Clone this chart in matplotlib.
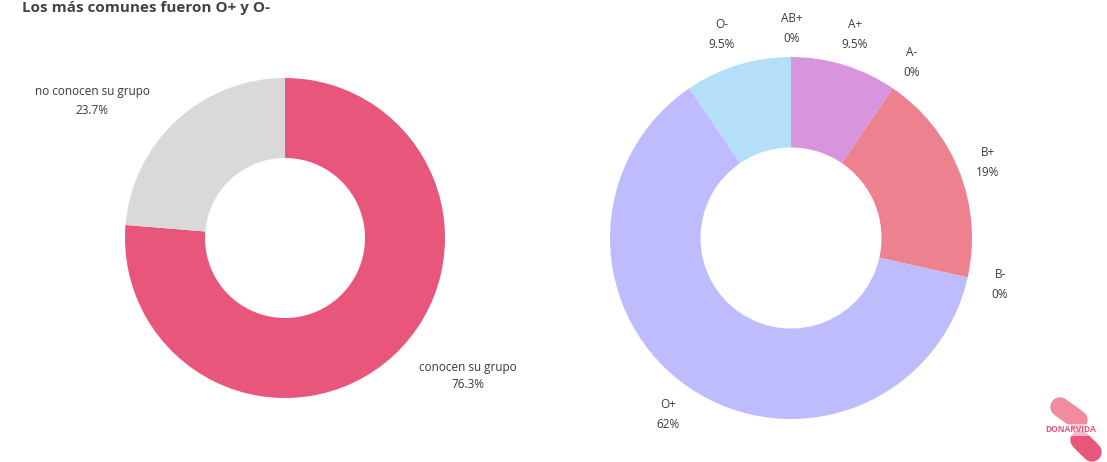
import matplotlib.pyplot as plt

plt.rcParams['font.family'] = ['Open Sans', 'DejaVu Sans']

W, H = 1107, 462

# Data
know_labels = ["conocen su grupo", "no conocen su grupo"]
know_values = [76.3, 23.7]
know_colors = ["#E8577B", "#D9D9D9"]

blood_labels = ["A+", "A-", "B+", "B-", "O+", "O-", "AB+"]
blood_values = [9.5, 0, 19, 0, 62, 9.5, 0]
blood_pct = ["9.5%", "0%", "19%", "0%", "62%", "9.5%", "0%"]
blood_colors = ["#D895DD", "#D895DD", "#EE8190", "#EE8190", "#BEBCFD", "#B5DFF9", "#B5DFF9"]

title = "Los más comunes fueron O+ y O-"

fig = plt.figure(figsize=(W / 100, H / 100), dpi=100)
fig.patch.set_facecolor("white")


def px_axes(cx, cy, r):
    return fig.add_axes([(cx - r) / W, (H - cy - r) / H, 2 * r / W, 2 * r / H])


# Left donut
ax1 = px_axes(285, 238, 160)
ax1.pie(know_values, colors=know_colors, startangle=90, counterclock=False,
        wedgeprops=dict(width=0.5, linewidth=0))
ax1.set_xlim(-1, 1)
ax1.set_ylim(-1, 1)
ax1.axis("off")

# Right donut
ax2 = px_axes(791, 238, 181)
ax2.pie(blood_values, colors=blood_colors, startangle=90, counterclock=False,
        wedgeprops=dict(width=0.5, linewidth=0))
ax2.set_xlim(-1, 1)
ax2.set_ylim(-1, 1)
ax2.axis("off")

# Overlay in pixel coordinates for labels, title and logo
ov = fig.add_axes([0, 0, 1, 1])
ov.set_xlim(0, W)
ov.set_ylim(H, 0)
ov.axis("off")
ov.patch.set_alpha(0)

txt = dict(color="#3a3a3a", fontsize=8.5, ha="center", va="center")

know_pos = [(468, 367), (92, 92)]
for (x, y), lab, v in zip(know_pos, know_labels, know_values):
    ov.text(x, y, lab, **txt)
    ov.text(x, y + 18, f"{v}%", **txt)

blood_pos = [(855, 25), (912, 52), (988, 152), (1000, 275), (668, 405), (722, 25), (792, 18)]
for (x, y), lab, p in zip(blood_pos, blood_labels, blood_pct):
    ov.text(x, y, lab, **txt)
    ov.text(x, y + 20, p, **txt)

ov.text(22, 1, title, color="#444444", fontsize=11, fontweight="bold",
        ha="left", va="top")

# Logo
ov.plot([1060, 1078], [407, 420], color="#F28BA0", lw=14, solid_capstyle="round")
ov.plot([1080, 1092], [440, 452], color="#E8577B", lw=14, solid_capstyle="round")
ov.text(1045, 430, "DONARVIDA", color="#E8577B", fontsize=6, fontweight="bold",
        ha="left", va="center",
        bbox=dict(boxstyle="square,pad=0.15", fc="white", ec="none", alpha=0.6))

fig.savefig("out.png", dpi=100, facecolor="white")
